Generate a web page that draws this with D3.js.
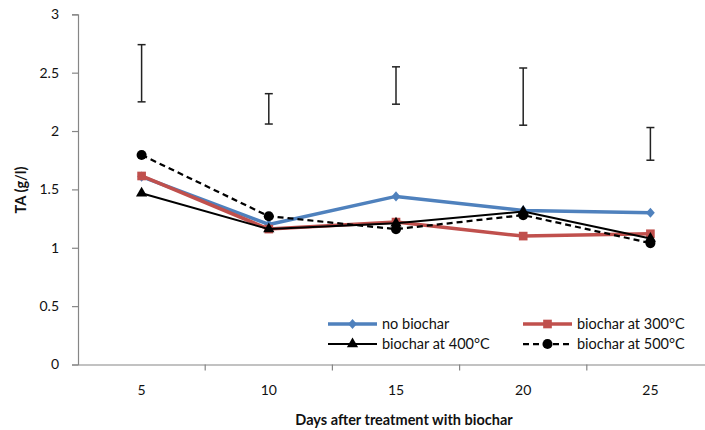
<!DOCTYPE html>
<html>
<head>
<meta charset="utf-8">
<script src="https://cdn.jsdelivr.net/npm/d3@7"></script>
<style>
  body { margin: 0; background: #fff; }
  svg { font-family: Lato, "Liberation Sans", sans-serif; }
</style>
</head>
<body>
<div id="chart"></div>
<script>
// data
var days = ["5", "10", "15", "20", "25"];
var noBiochar = [1.61, 1.20, 1.44, 1.32, 1.30];
var biochar300 = [1.615, 1.16, 1.22, 1.10, 1.12];
var biochar400 = [1.467, 1.16, 1.21, 1.31, 1.08];
var biochar500 = [1.795, 1.27, 1.16, 1.28, 1.04];
var errLow = [2.25, 2.06, 2.23, 2.05, 1.75];
var errHigh = [2.74, 2.32, 2.55, 2.54, 2.03];
var yTicks = [0, 0.5, 1, 1.5, 2, 2.5, 3];

var svgWidth = 705;
var svgHeight = 430;

var svg = d3.select("#chart")
  .append("svg")
  .attr("width", svgWidth)
  .attr("height", svgHeight);

// scales
var x = d3.scaleBand()
  .domain(days)
  .range([78, 714])
  .padding(0);

var y = d3.scaleLinear()
  .domain([0, 3])
  .range([364.5, 14.3]);

var axisColor = "#868686";

// y axis
var yAxis = svg.append("g")
  .attr("transform", "translate(78,0)")
  .call(d3.axisLeft(y).tickValues(yTicks).tickSize(6).tickPadding(13).tickFormat(d3.format("")));
yAxis.select(".domain").attr("stroke", axisColor).attr("stroke-width", 1.2);
yAxis.selectAll(".tick line").attr("stroke", axisColor).attr("stroke-width", 1.2);
yAxis.selectAll(".tick text")
  .attr("font-size", 14)
  .attr("font-family", "Lato, 'Liberation Sans', sans-serif")
  .attr("fill", "#111");

// x axis: labels in band centres, tick marks on band boundaries
var xAxis = svg.append("g")
  .attr("transform", "translate(0," + y(0) + ")")
  .call(d3.axisBottom(x).tickSize(0).tickPadding(21).tickSizeOuter(0));
xAxis.select(".domain").attr("stroke", axisColor).attr("stroke-width", 1.2);
xAxis.selectAll(".tick text")
  .attr("font-size", 14)
  .attr("font-family", "Lato, 'Liberation Sans', sans-serif")
  .attr("fill", "#111");

xAxis.selectAll(".boundary")
  .data(days.slice(1))
  .enter()
  .append("line")
  .attr("class", "boundary")
  .attr("x1", d => x(d))
  .attr("x2", d => x(d))
  .attr("y1", 0)
  .attr("y2", 6)
  .attr("stroke", axisColor)
  .attr("stroke-width", 1.2);

// axis titles
svg.append("text")
  .attr("x", 404)
  .attr("y", 425)
  .attr("text-anchor", "middle")
  .attr("font-size", 14.5)
  .attr("font-weight", "bold")
  .attr("fill", "#111")
  .text("Days after treatment with biochar");

svg.append("text")
  .attr("transform", "translate(26,190) rotate(-90)")
  .attr("text-anchor", "middle")
  .attr("font-size", 14.5)
  .attr("font-weight", "bold")
  .attr("fill", "#111")
  .text("TA (g/l)");

// error bars
var cx = d => x(d) + x.bandwidth() / 2;
var errGroup = svg.append("g");
days.forEach(function(d, i) {
  var g = errGroup.append("g").attr("stroke", "#222").attr("stroke-width", 1.5);
  g.append("line").attr("x1", cx(d)).attr("x2", cx(d)).attr("y1", y(errLow[i])).attr("y2", y(errHigh[i]));
  g.append("line").attr("x1", cx(d) - 4).attr("x2", cx(d) + 4).attr("y1", y(errLow[i])).attr("y2", y(errLow[i]));
  g.append("line").attr("x1", cx(d) - 4).attr("x2", cx(d) + 4).attr("y1", y(errHigh[i])).attr("y2", y(errHigh[i]));
});

var series = [
  { name: "no biochar", values: noBiochar, color: "#4F81BD", width: 3.5, dash: null, symbol: d3.symbolDiamond, size: 30, sx: 1.5 },
  { name: "biochar at 300°C", values: biochar300, color: "#C0504D", width: 3.5, dash: null, symbol: d3.symbolSquare, size: 75, sx: 1 },
  { name: "biochar at 400°C", values: biochar400, color: "#000000", width: 2, dash: null, symbol: d3.symbolTriangle, size: 55, sx: 1 },
  { name: "biochar at 500°C", values: biochar500, color: "#000000", width: 2.25, dash: "6,4", symbol: d3.symbolCircle, size: 80, sx: 1 }
];

var line = d3.line()
  .x((d, i) => cx(days[i]))
  .y(d => y(d));

series.forEach(function(s) {
  svg.append("path")
    .datum(s.values)
    .attr("d", line)
    .attr("fill", "none")
    .attr("stroke", s.color)
    .attr("stroke-width", s.width)
    .attr("stroke-dasharray", s.dash)
    .attr("stroke-linejoin", "round");

  svg.selectAll(null)
    .data(s.values)
    .enter()
    .append("path")
    .attr("d", d3.symbol().type(s.symbol).size(s.size))
    .attr("transform", (d, i) => "translate(" + cx(days[i]) + "," + y(d) + ") scale(" + s.sx + ",1)")
    .attr("fill", s.color);
});

// legend
var legendPos = [
  { lx: 328, ly: 324 },
  { lx: 523, ly: 324 },
  { lx: 328, ly: 344 },
  { lx: 523, ly: 344 }
];

var legend = svg.append("g");
series.forEach(function(s, i) {
  var p = legendPos[i];
  var g = legend.append("g").attr("transform", "translate(" + p.lx + "," + p.ly + ")");
  g.append("line")
    .attr("x1", 0).attr("x2", 49)
    .attr("y1", 0).attr("y2", 0)
    .attr("stroke", s.color)
    .attr("stroke-width", s.width)
    .attr("stroke-dasharray", s.dash);
  g.append("path")
    .attr("d", d3.symbol().type(s.symbol).size(s.size))
    .attr("transform", "translate(24.5,0) scale(" + s.sx + ",1)")
    .attr("fill", s.color);
  g.append("text")
    .attr("x", 54)
    .attr("y", 5)
    .attr("font-size", 14.5)
    .attr("fill", "#111")
    .text(s.name);
});
</script>
</body>
</html>
